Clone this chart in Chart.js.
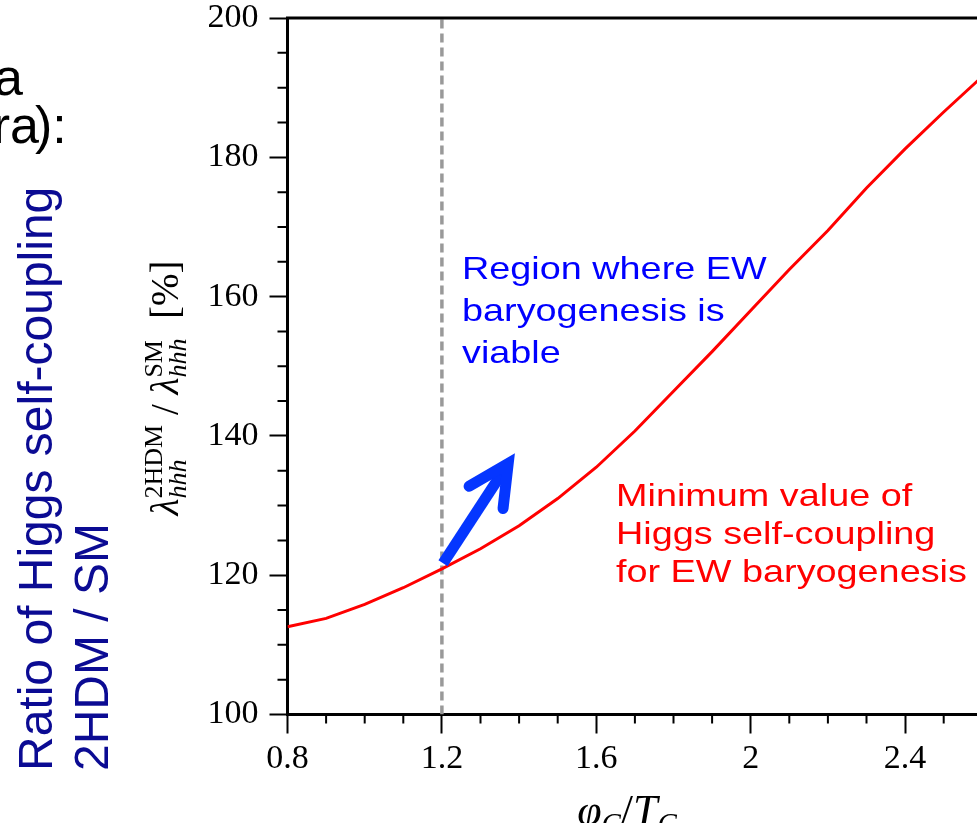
<!DOCTYPE html>
<html>
<head>
<meta charset="utf-8">
<script src="https://cdn.jsdelivr.net/npm/chart.js@4.4.0/dist/chart.umd.min.js"></script>
<style>
  html, body { margin: 0; padding: 0; background: #fff; overflow: hidden; }
  #wrap { width: 1060px; height: 823px; }
</style>
</head>
<body>
<div id="wrap"><canvas id="chart" width="1060" height="823"></canvas></div>
<script>
// phi_C / T_C values and the minimum ratio lambda_hhh(2HDM)/lambda_hhh(SM) in %
const phiOverT = [0.8, 0.9, 1.0, 1.1, 1.2, 1.3, 1.4, 1.5, 1.6, 1.7, 1.8, 1.9, 2.0, 2.1, 2.2, 2.3, 2.4, 2.5, 2.6, 2.7];
const ratioPct = [112.6, 113.8, 115.8, 118.2, 120.9, 123.8, 127.1, 131.0, 135.5, 140.7, 146.4, 152.1, 158.0, 163.9, 169.5, 175.6, 181.2, 186.5, 191.6, 196.5];

// vertical cut at phi_C/T_C = 1.2
const cutX = 1.2;
const cutY = [100, 200];

// arrow from the curve into the viable region (data coords)
const arrowFrom = [1.203, 121.7];
const arrowTo = [1.376, 136.4];

const xRange = [0.8, 2.8];
const yRange = [100, 200];

const blueNote = ['Region where EW', 'baryogenesis is', 'viable'];
const redNote = ['Minimum value of', 'Higgs self-coupling', 'for EW baryogenesis'];
const sideTitle = ['Ratio of Higgs self-coupling', '2HDM / SM'];

const serif = '"Liberation Serif", "DejaVu Serif", serif';
const sans = '"Liberation Sans", Arial, sans-serif';

// row of text pieces (with optional sub/superscript stacks), centred, baseline at y=0
function drawPieces(ctx, pieces) {
  const widths = pieces.map(p => {
    if (p.t !== undefined) { ctx.font = p.font; return ctx.measureText(p.t).width; }
    let w = 0;
    if (p.sub) { ctx.font = p.subFont; w = Math.max(w, ctx.measureText(p.sub).width); }
    if (p.sup) { ctx.font = p.supFont; w = Math.max(w, ctx.measureText(p.sup).width); }
    return w;
  });
  const total = widths.reduce((a, b) => a + b, 0);
  let x = -total / 2;
  pieces.forEach((p, i) => {
    if (p.t !== undefined) {
      ctx.font = p.font;
      ctx.fillText(p.t, x, 0);
    } else {
      if (p.sub) { ctx.font = p.subFont; ctx.fillText(p.sub, x, p.subDy); }
      if (p.sup) { ctx.font = p.supFont; ctx.fillText(p.sup, x, p.supDy); }
    }
    x += widths[i];
  });
}

// text boxes in the slide are a bit stretched horizontally
function wideLines(ctx, lines, left, base, step, color) {
  ctx.save();
  ctx.fillStyle = color;
  ctx.translate(left, base);
  ctx.scale(1.2, 1);
  lines.forEach((t, i) => ctx.fillText(t, 0, i * step));
  ctx.restore();
}

const extras = {
  id: 'extras',
  afterDraw(chart) {
    const { ctx, chartArea: a, scales: { x, y } } = chart;
    ctx.save();

    // top frame
    ctx.strokeStyle = '#000';
    ctx.lineWidth = 3;
    ctx.beginPath();
    ctx.moveTo(a.left - 1.5, a.top);
    ctx.lineTo(a.right, a.top);
    ctx.stroke();

    // minor ticks
    ctx.lineWidth = 2;
    ctx.beginPath();
    for (let v = yRange[0]; v <= yRange[1]; v += 5) {
      if (v % 20 === 0) continue;
      const py = y.getPixelForValue(v);
      ctx.moveTo(a.left, py);
      ctx.lineTo(a.left - 10, py);
    }
    for (let k = 8; k <= 28; k++) {
      if (k % 4 === 0) continue;
      const px = x.getPixelForValue(k / 10);
      ctx.moveTo(px, a.bottom);
      ctx.lineTo(px, a.bottom + 9);
    }
    ctx.stroke();

    // arrow
    const x0 = x.getPixelForValue(arrowFrom[0]), y0 = y.getPixelForValue(arrowFrom[1]);
    const x1 = x.getPixelForValue(arrowTo[0]), y1 = y.getPixelForValue(arrowTo[1]);
    const ang = Math.atan2(y1 - y0, x1 - x0);
    ctx.strokeStyle = '#0536ff';
    ctx.lineWidth = 11;
    ctx.lineCap = 'butt';
    ctx.beginPath();
    ctx.moveTo(x0, y0);
    ctx.lineTo(x1 - 6 * Math.cos(ang), y1 - 6 * Math.sin(ang));
    ctx.stroke();
    const hl = 48, ha = 25 * Math.PI / 180;
    ctx.lineCap = 'round';
    ctx.lineJoin = 'miter';
    ctx.beginPath();
    ctx.moveTo(x1 - hl * Math.cos(ang - ha), y1 - hl * Math.sin(ang - ha));
    ctx.lineTo(x1 - 3 * Math.cos(ang), y1 - 3 * Math.sin(ang));
    ctx.lineTo(x1 - hl * Math.cos(ang + ha), y1 - hl * Math.sin(ang + ha));
    ctx.stroke();

    // notes
    ctx.textAlign = 'left';
    ctx.textBaseline = 'alphabetic';
    ctx.font = '31.5px ' + sans;
    wideLines(ctx, blueNote, 462, 279, 42, '#0000ff');
    wideLines(ctx, redNote, 616, 506, 38, '#ff0000');

    // cut-off slide text on the left
    ctx.fillStyle = '#000';
    ctx.font = '52px ' + sans;
    ctx.textAlign = 'right';
    ctx.fillText('a', 23, 95);
    ctx.fillText('ra', 39, 143);
    ctx.textAlign = 'left';
    ctx.fillText('):', 35, 143);

    // rotated side title
    ctx.font = '48px ' + sans;
    ctx.fillStyle = '#0b0b93';
    sideTitle.forEach((t, i) => {
      ctx.save();
      ctx.translate(52 + i * 56, 771);
      ctx.rotate(-Math.PI / 2);
      ctx.fillText(t, 0, 0);
      ctx.restore();
    });

    // y axis title
    ctx.fillStyle = '#000';
    const big = 'italic 39px ' + serif, up = '39px ' + serif;
    const subF = 'italic 26px ' + serif, supF = '26px ' + serif;
    ctx.save();
    ctx.translate(178, 388);
    ctx.rotate(-Math.PI / 2);
    drawPieces(ctx, [
      { t: 'λ', font: big },
      { sub: 'hhh', sup: '2HDM', subFont: subF, supFont: supF, subDy: 8, supDy: -16 },
      { t: ' / ', font: up },
      { t: 'λ', font: big },
      { sub: 'hhh', sup: 'SM', subFont: subF, supFont: supF, subDy: 8, supDy: -16 },
      { t: '  [%]', font: up }
    ]);
    ctx.restore();

    // x axis title (bottom part is cut by the picture edge)
    ctx.save();
    ctx.translate(627, 825);
    drawPieces(ctx, [
      { t: 'φ', font: 'italic 44px ' + serif },
      { sub: 'C', subFont: 'italic 29px ' + serif, subDy: 8 },
      { t: '/', font: '44px ' + serif },
      { t: 'T', font: 'italic 44px ' + serif },
      { sub: 'C', subFont: 'italic 29px ' + serif, subDy: 8 }
    ]);
    ctx.restore();

    ctx.restore();
  }
};

new Chart(document.getElementById('chart'), {
  type: 'line',
  data: {
    datasets: [
      {
        data: phiOverT.map((v, i) => ({ x: v, y: ratioPct[i] })),
        borderColor: '#ff0000',
        borderWidth: 3,
        pointRadius: 0,
        tension: 0
      },
      {
        data: cutY.map(v => ({ x: cutX, y: v })),
        borderColor: '#999999',
        borderWidth: 3.5,
        borderDash: [9, 5],
        pointRadius: 0
      }
    ]
  },
  options: {
    responsive: false,
    animation: false,
    layout: { padding: { left: 0, top: 18, right: 0.5, bottom: 0 } },
    plugins: { legend: { display: false }, tooltip: { enabled: false } },
    scales: {
      x: {
        type: 'linear',
        min: xRange[0],
        max: xRange[1],
        afterFit: s => { s.height = 108.5; s.paddingLeft = 0; s.paddingRight = 0; },
        border: { display: true, color: '#000', width: 3 },
        grid: { drawOnChartArea: false, drawTicks: true, tickLength: 19, tickWidth: 2, tickColor: '#000' },
        ticks: {
          stepSize: 0.4,
          autoSkip: false,
          maxRotation: 0,
          padding: 5,
          color: '#000',
          font: { family: serif, size: 34 },
          callback: v => (v > 2.5 ? '' : String(Number(v.toFixed(1))))
        }
      },
      y: {
        min: yRange[0],
        max: yRange[1],
        afterFit: s => { s.width = 287.5; s.paddingTop = 0; s.paddingBottom = 0; },
        border: { display: true, color: '#000', width: 3 },
        grid: { drawOnChartArea: false, drawTicks: true, tickLength: 18, tickWidth: 2, tickColor: '#000' },
        ticks: {
          stepSize: 20,
          padding: 11,
          color: '#000',
          font: { family: serif, size: 34 }
        }
      }
    }
  },
  plugins: [extras]
});
</script>
</body>
</html>
